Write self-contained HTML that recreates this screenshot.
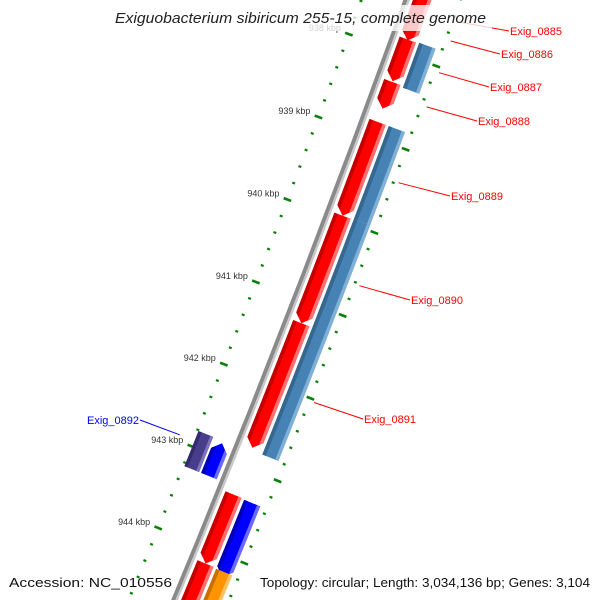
<!DOCTYPE html>
<html><head><meta charset="utf-8"><style>
html,body{margin:0;padding:0;background:#fff;width:600px;height:600px;overflow:hidden;}
svg{display:block;overflow:hidden;}
</style></head><body>
<svg id="chart" width="600" height="600" viewBox="0 0 600 600" xmlns="http://www.w3.org/2000/svg" font-family="'Liberation Sans', 'DejaVu Sans', sans-serif">
<rect x="0" y="0" width="600" height="600" fill="#fff"/>
<defs id="defs"></defs>
<g id="ticks"></g>
<g id="backbone"></g>
<g id="features"></g>
<g id="labels"></g>
<rect x="108" y="5" width="384" height="26" fill="#fff" fill-opacity="0.78"/>
<text x="115" y="23" font-size="15" font-style="italic" fill="#222" textLength="371" lengthAdjust="spacingAndGlyphs">Exiguobacterium sibiricum 255-15, complete genome</text>
<text x="9" y="587" font-size="13" fill="#111" textLength="163" lengthAdjust="spacingAndGlyphs">Accession: NC_010556</text>
<text x="260" y="587" font-size="13" fill="#111" textLength="330" lengthAdjust="spacingAndGlyphs">Topology: circular; Length: 3,034,136 bp; Genes: 3,104</text>
</svg>
<script>
// ---- data (bp) ----
const featStart = [937160, 937830, 938340, 938820, 939950, 941250, 943330, 944170, 937820, 938820, 939940, 943340, 944180, 942810, 942840];
const featEnd   = [937840, 938330, 938660, 939950, 941250, 942760, 944170, 944870, 938360, 939940, 942790, 944240, 944780, 943240, 943240];
const featTrack = ['fwd','fwd','fwd','fwd','fwd','fwd','fwd','fwd','cog','cog','cog','cog','cog','inner2','inner1'];
const featColor = ['red','red','red','red','red','red','red','red','steelblue','steelblue','steelblue','blue','orange','purple','blue'];
const featShape = ['fwd','fwd','fwd','fwd','fwd','fwd','fwd','fwd','box','box','box','fwd','box','box','rev'];
const labelNames = ['Exig_0885','Exig_0886','Exig_0887','Exig_0888','Exig_0889','Exig_0890','Exig_0891','Exig_0892'];
const labelBp    = [937450, 937680, 938060, 938470, 939380, 940620, 942030, 942930];
const labelSide  = ['out','out','out','out','out','out','out','in'];
const majorTicks = [938000, 939000, 940000, 941000, 942000, 943000, 944000];
const tickLabels = ['938 kbp','939 kbp','940 kbp','941 kbp','942 kbp','943 kbp','944 kbp'];
const minorStart = 936800, minorEnd = 945200, minorStep = 200;

// ---- layout ----
const labelXY = [[510,35],[501,58],[490,91],[478,125],[451,200],[411,304],[364,423],[139,424]];
const tracks = {fwd:[5.5,23], cog:[26,43.5], inner1:[-24,-7], inner2:[-42,-26]};
const palette = {
  red:['#ff0000','#c40000','#ff7070'], steelblue:['#4682b4','#35678f','#7fb0d8'],
  blue:['#0000ff','#0000b8','#6a6aff'], orange:['#ff9400','#c97000','#ffc060'],
  purple:['#483d8b','#342a6e','#7d73bb']
};
const R = 14000, P0 = [410, 0];
const N0 = [0.941, 0.339];
const C = [P0[0] - R*N0[0], P0[1] - R*N0[1]];
const a0 = Math.atan2(N0[1], N0[0]);
const pxPerBp = 0.0885, L940 = 230;
function lenOf(bp){ return L940 + (bp - 940000)*pxPerBp; }
function pt(bp, off){
  const a = a0 + lenOf(bp)/R, r = R + off;
  return [C[0] + r*Math.cos(a), C[1] + r*Math.sin(a)];
}
const NS = 'http://www.w3.org/2000/svg';
function mk(tag, attrs, parent){
  const e = document.createElementNS(NS, tag);
  for (const k in attrs) e.setAttribute(k, attrs[k]);
  parent.appendChild(e); return e;
}
function poly(points){ return points.map(p => p[0].toFixed(2)+','+p[1].toFixed(2)).join(' '); }
function band(b1, b2, o1, o2){
  const pts = [];
  const n = 6;
  for (let i=0;i<=n;i++) pts.push(pt(b1+(b2-b1)*i/n, o1));
  for (let i=n;i>=0;i--) pts.push(pt(b1+(b2-b1)*i/n, o2));
  return pts;
}

// ---- ticks ----
const tg = document.getElementById('ticks');
for (let bp = minorStart; bp <= minorEnd; bp += minorStep) {
  if (bp % 1000 === 0) continue;
  [[-44.5,-41.5],[48.5,51.5]].forEach(([o1,o2]) => {
    const a = pt(bp,o1), b = pt(bp,o2);
    const l = mk('line',{x1:a[0],y1:a[1],x2:b[0],y2:b[1],stroke:'#0a800a','stroke-width':2.2},tg);
    
    
  });
}
majorTicks.forEach((bp,i) => {
  [[-47,-39],[46,54]].forEach(([o1,o2]) => {
    const a = pt(bp,o1), b = pt(bp,o2);
    const l = mk('line',{x1:a[0],y1:a[1],x2:b[0],y2:b[1],stroke:'#0a800a','stroke-width':2.6},tg);
    
    
  });
  const c = pt(bp,-43);
  const t = mk('text',{x:(c[0]-8).toFixed(1),y:(c[1]-3).toFixed(1),'font-size':9,fill:'#333','text-anchor':'end'},tg);
  t.textContent = tickLabels[i];
  
  
});

// ---- backbone ----
const bbg = document.getElementById('backbone');
const bb1 = mk('polygon',{points:poly(band(935800,945600,-3.5,0.5)),fill:'#8a8a8a'},bbg);


const bb2 = mk('polygon',{points:poly(band(935800,945600,0.5,2.8)),fill:'#c8c8c8'},bbg);



// ---- features ----
const fg = document.getElementById('features');
const defs = document.getElementById('defs');
const headBp = 95;
featStart.forEach((s,i) => {
  const e = featEnd[i], [o1,o2] = tracks[featTrack[i]], shape = featShape[i];
  const mid = (o1+o2)/2;
  let pts;
  if (shape === 'fwd') {
    pts = band(s, e-headBp, o1, o2);
    const half = pts.length/2;
    pts.splice(half, 0, pt(e, mid));
  } else if (shape === 'rev') {
    pts = band(s+headBp, e, o1, o2);
    pts.push(pt(s, mid));
  } else {
    pts = band(s, e, o1, o2);
  }
  const cid = 'clip'+i;
  const cp = mk('clipPath',{id:cid},defs);
  mk('polygon',{points:poly(pts)},cp);
  const g = mk('g',{'clip-path':'url(#'+cid+')'},fg);
  
  
  const col = palette[featColor[i]];
  const w = o2-o1;
  mk('polygon',{points:poly(band(s-200,e+200,o1,o2)),fill:col[0]},g);
  mk('polygon',{points:poly(band(s-200,e+200,o1,o1+w*0.22)),fill:col[1]},g);
  mk('polygon',{points:poly(band(s-200,e+200,o2-w*0.2,o2)),fill:col[2]},g);
});

// ---- gene labels ----
const lg = document.getElementById('labels');
labelNames.forEach((name,i) => {
  const out = labelSide[i] === 'out';
  const color = out ? '#ff0000' : '#0000ff';
  const st = pt(labelBp[i], out ? 55 : -58);
  const [lx, ly] = labelXY[i];
  const ex = out ? lx-1 : lx+1, ey = ly-4;
  const l = mk('line',{x1:st[0].toFixed(1),y1:st[1].toFixed(1),x2:ex,y2:ey,stroke:color,'stroke-width':1},lg);
  
  
  const t = mk('text',{x:lx,y:ly,'font-size':11,fill:color,'text-anchor': out ? 'start' : 'end'},lg);
  t.textContent = name;
  
  
});
</script>
</body></html>
